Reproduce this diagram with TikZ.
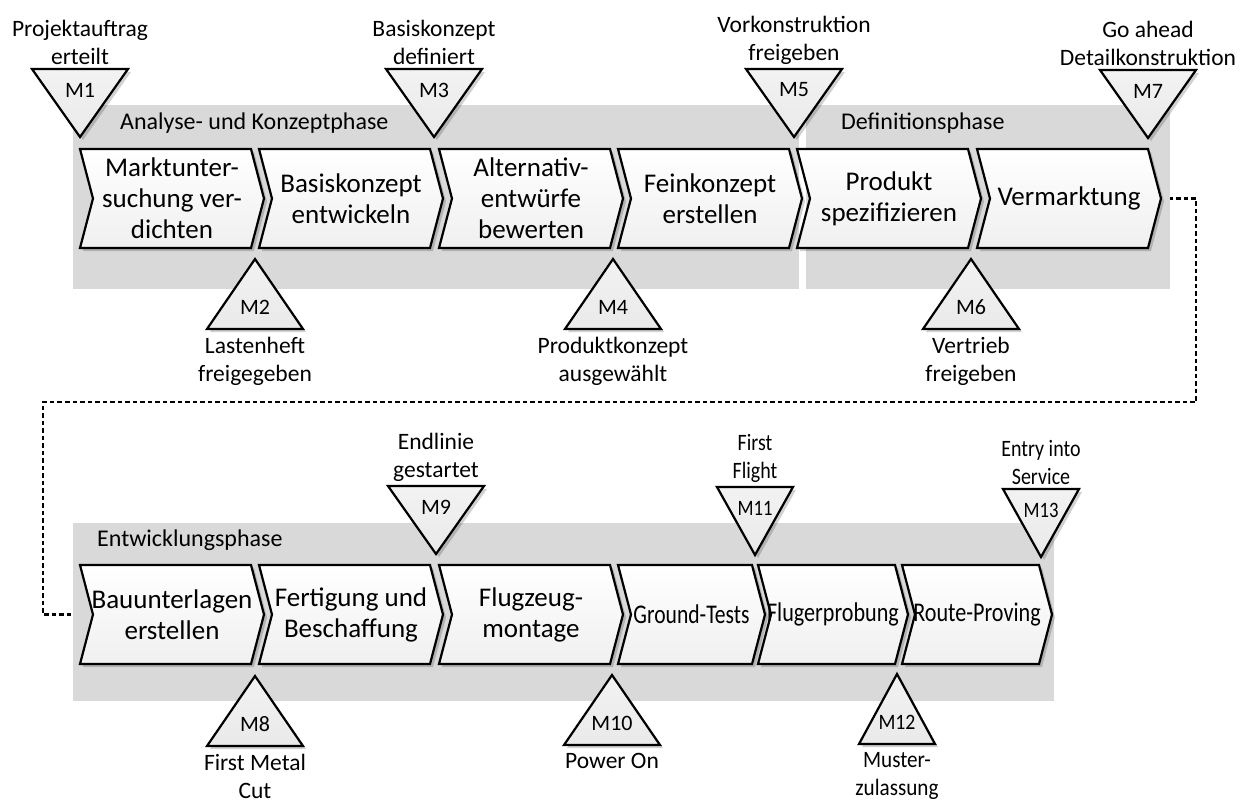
\documentclass[tikz,border=0pt]{standalone}
\usepackage{fontspec}
\setmainfont{Carlito}
\usetikzlibrary{calc}

\definecolor{phasegray}{RGB}{217,217,217}
\newcommand\narrowfeat{}
\tikzset{
  phasebox/.style={fill=phasegray, draw=none},
  shadowfill/.style={fill=black, fill opacity=0.18, draw=none},
  chevbox/.style={draw=black, line width=2.2pt, line join=miter, top color=white, bottom color=gray!12},
  tribox/.style={draw=black, line width=2.2pt, line join=miter, top color=gray!10, bottom color=gray!17},
  narrow/.style={/utils/exec={\def\narrowfeat{\addfontfeatures{FakeStretch=#1}}}},
  chevtext/.style={align=center, inner sep=0pt, font=\fontsize{27}{31}\selectfont\narrowfeat},
  mtext/.style={inner sep=0pt, font=\fontsize{22}{24}\selectfont\narrowfeat},
  lbl/.style={align=center, inner sep=0pt, font=\fontsize{23.5}{28}\selectfont\narrowfeat},
  phaselbl/.style={anchor=west, inner sep=0pt, font=\fontsize{24}{26}\selectfont},
  flow/.style={draw=black, line width=2.5pt, dash pattern=on 4.5pt off 3pt},
}

% chevron: [text style], name, left x, width to upper right corner, top y, text
\newcommand\chev[6][]{%
  \path[shadowfill] ({#3+3},{#5+3}) -- ({#3+#4+3},{#5+3}) -- ({#3+#4+16},{#5+52.5})
    -- ({#3+#4+3},{#5+102}) -- ({#3+3},{#5+102}) -- ({#3+16},{#5+52.5}) -- cycle;
  \path[chevbox] (#3,#5) -- ({#3+#4},#5) -- ({#3+#4+13},{#5+49.5})
    -- ({#3+#4},{#5+99}) -- (#3,{#5+99}) -- ({#3+13},{#5+49.5}) -- cycle;
  \coordinate (#2-notch) at ({#3+13},{#5+49.5});
  \coordinate (#2-tip) at ({#3+#4+13},{#5+49.5});
  \node[#1, chevtext] (#2) at ({#3+(#4+13)/2},{#5+49.5}) {#6};
}
% milestone pointing down: [text style], name, centre x, top y, half width, tag, caption
\newcommand\msdown[7][]{%
  \path[shadowfill] ({#3-#5+3},{#4+3}) -- ({#3+#5+3},{#4+3}) -- ({#3+3},{#4+71}) -- cycle;
  \path[tribox] ({#3-#5},#4) -- ({#3+#5},#4) -- (#3,{#4+68}) -- cycle;
  \node[#1, mtext] (#2) at (#3,{#4+21}) {#6};
  \node[#1, lbl, anchor=south] (#2-lbl) at (#3,{#4-4}) {#7};
}
% milestone pointing up: [text style], name, centre x, apex y, half width, tag, caption
\newcommand\msup[7][]{%
  \path[shadowfill] ({#3+3},{#4+3}) -- ({#3+#5+3},{#4+73}) -- ({#3-#5+3},{#4+73}) -- cycle;
  \path[tribox] (#3,#4) -- ({#3+#5},{#4+70}) -- ({#3-#5},{#4+70}) -- cycle;
  \node[#1, mtext] (#2) at (#3,{#4+48}) {#6};
  \node[#1, lbl, anchor=north] (#2-lbl) at (#3,{#4+78}) {#7};
}

\begin{document}
\begin{tikzpicture}[x=1pt, y=-1pt]
\useasboundingbox (0,0) rectangle (1251,807);

% link from the end of the first row to the start of the second row
\coordinate (r1) at (1196,198.5);
\coordinate (r2) at (1196,402);
\coordinate (r3) at (43,402);
\coordinate (r4) at (43,614.5);
\coordinate (vm-end) at (1161,198.5);
\coordinate (bu-start) at (93,614.5);
\draw[flow] (vm-end) -- (r1) -- (r2) -- (r3) -- (r4) -- (bu-start);

% phase backgrounds
\path[phasebox] (73,105) rectangle (799,289);
\path[phasebox] (806,105) rectangle (1170,289);
\path[phasebox] (73,523) rectangle (1054,701);
\node[phaselbl] (ph1) at (120,123) {Analyse- und Konzeptphase};
\node[phaselbl] (ph2) at (841,123) {Definitionsphase};
\node[phaselbl] (ph3) at (97,540) {Entwicklungsphase};

% first row of steps
\chev{mu}{80}{171}{149}{Marktunter-\\suchung ver-\\dichten}
\chev{bk}{259}{171}{149}{Basiskonzept\\entwickeln}
\chev{ae}{439}{171}{149}{Alternativ-\\entwürfe\\bewerten}
\chev{fk}{618}{171}{149}{Feinkonzept\\erstellen}
\chev{ps}{797}{171}{149}{Produkt\\spezifizieren}
\chev{vm}{977}{171}{149}{Vermarktung}

% second row of steps
\chev{bu}{80}{171}{565}{Bauunterlagen\\erstellen}
\chev{fb}{259}{171}{565}{Fertigung und\\Beschaffung}
\chev{fm}{439}{171}{565}{Flugzeug-\\montage}
\chev[narrow=0.8]{gt}{618}{134}{565}{Ground-Tests}
\chev[narrow=0.82]{fe}{758}{137}{565}{Flugerprobung}
\chev[narrow=0.82]{rp}{902}{137}{565}{Route-Proving}

% milestones, first row
\msdown{m1}{80}{69}{48}{M1}{Projektauftrag\\erteilt}
\msdown{m3}{434}{69}{48}{M3}{Basiskonzept\\definiert}
\msdown{m5}{794}{69}{48}{M5}{Vorkonstruktion\\freigeben}
\msdown{m7}{1148}{70}{48}{M7}{Go ahead\\Detailkonstruktion}
\msup{m2}{255}{259}{48}{M2}{Lastenheft\\freigegeben}
\msup{m4}{613}{259}{48}{M4}{Produktkonzept\\ausgewählt}
\msup{m6}{971}{259}{48}{M6}{Vertrieb\\freigeben}

% milestones, second row
\msdown{m9}{436}{486}{48}{M9}{Endlinie\\gestartet}
\msdown[narrow=0.85]{m11}{755}{487}{38}{M11}{First\\Flight}
\msdown[narrow=0.85]{m13}{1041}{489}{38}{M13}{Entry into\\Service}
\msup{m8}{255}{676}{48}{M8}{First Metal\\Cut}
\msup{m10}{612}{675}{48}{M10}{Power On}
\msup[narrow=0.9]{m12}{897}{674}{38}{M12}{Muster-\\zulassung}
\end{tikzpicture}
\end{document}
